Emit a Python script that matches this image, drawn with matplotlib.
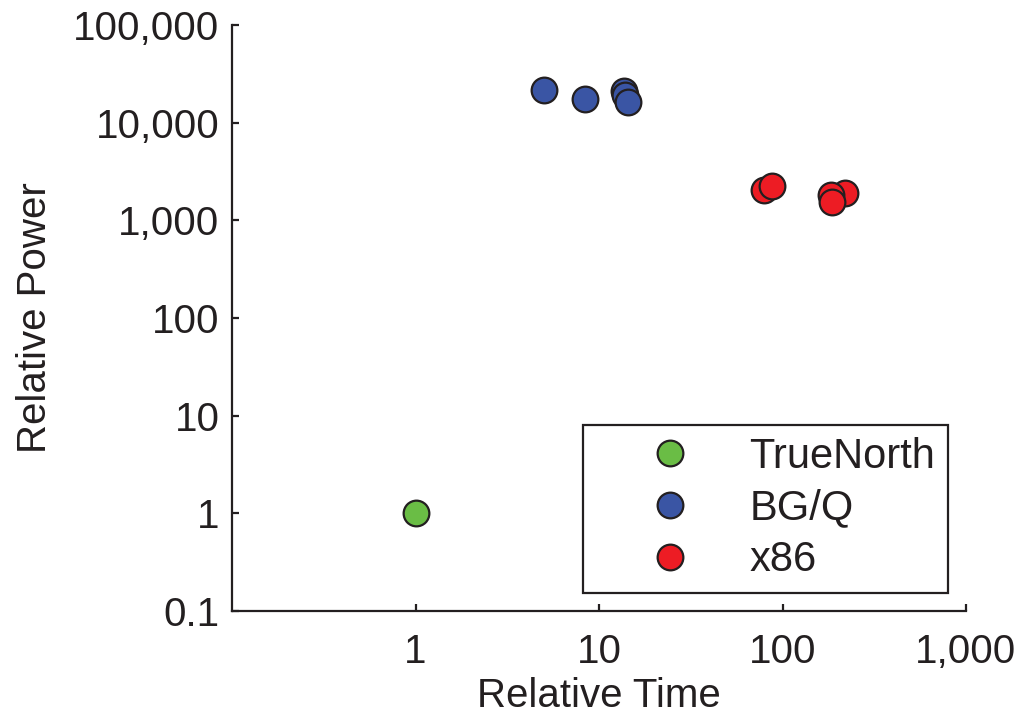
import matplotlib
matplotlib.use("Agg")
import matplotlib.pyplot as plt
from matplotlib.ticker import FixedLocator, FuncFormatter, NullLocator

plt.rcParams['font.family'] = ['Liberation Sans', 'DejaVu Sans']

# Data
series_names = ["TrueNorth", "BG/Q", "x86"]
truenorth_time = [1.0]
truenorth_power = [1.0]
bgq_time = [5.0, 8.4, 13.6, 13.9, 14.4]
bgq_power = [21500, 17500, 21000, 19000, 16300]
x86_time = [79, 88, 220, 183, 185]
x86_power = [2060, 2250, 1900, 1800, 1550]

x_ticks = [1, 10, 100, 1000]
y_ticks = [0.1, 1, 10, 100, 1000, 10000, 100000]

colors = ["#6abd45", "#3a55a4", "#ed1c24"]
edge = "#231f20"
txt = "#231f20"

fig = plt.figure(figsize=(10.35, 7.13), dpi=100)
ax = fig.add_axes([232/1035, 1-611/713, (966-232)/1035, (611-25)/713])

fs = 29
series = [(truenorth_time, truenorth_power), (bgq_time, bgq_power), (x86_time, x86_power)]
for (xs, ys), name, c in zip(series, series_names, colors):
    ax.plot(xs, ys, linestyle='none', marker='o', markersize=18.5,
            markerfacecolor=c, markeredgecolor=edge, markeredgewidth=1.6,
            label=name, clip_on=False)

ax.set_xscale('log')
ax.set_yscale('log')
ax.set_xlim(0.1, 1000)
ax.set_ylim(0.1, 100000)

def fmt(v, pos):
    if v >= 1:
        return f"{int(round(v)):,}"
    return f"{v:g}"

ax.xaxis.set_major_locator(FixedLocator(x_ticks))
ax.yaxis.set_major_locator(FixedLocator(y_ticks))
ax.xaxis.set_minor_locator(NullLocator())
ax.yaxis.set_minor_locator(NullLocator())
ax.xaxis.set_major_formatter(FuncFormatter(fmt))
ax.yaxis.set_major_formatter(FuncFormatter(fmt))

for s in ['top', 'right']:
    ax.spines[s].set_visible(False)
for s in ['left', 'bottom']:
    ax.spines[s].set_linewidth(1.6)
    ax.spines[s].set_color(txt)

ax.tick_params(axis='both', direction='in', length=5, width=1.6, colors=txt,
               labelsize=fs, labelcolor=txt)
ax.tick_params(axis='x', pad=16)
ax.tick_params(axis='y', pad=9)

ax.set_xlabel("Relative Time", fontsize=fs, color=txt, labelpad=4)
ax.set_ylabel("Relative Power", fontsize=fs, color=txt, labelpad=14)

leg = ax.legend(loc='lower right', bbox_to_anchor=(0.975, 0.031), fontsize=30,
                frameon=True, fancybox=False, edgecolor=txt, framealpha=1,
                borderpad=0.3, handlelength=3.6, handletextpad=0.1,
                labelspacing=0.28, numpoints=1, markerscale=1.0,
                borderaxespad=0)
leg.get_frame().set_linewidth(1.6)
for t in leg.get_texts():
    t.set_color(txt)

fig.savefig("out.png", dpi=100)
